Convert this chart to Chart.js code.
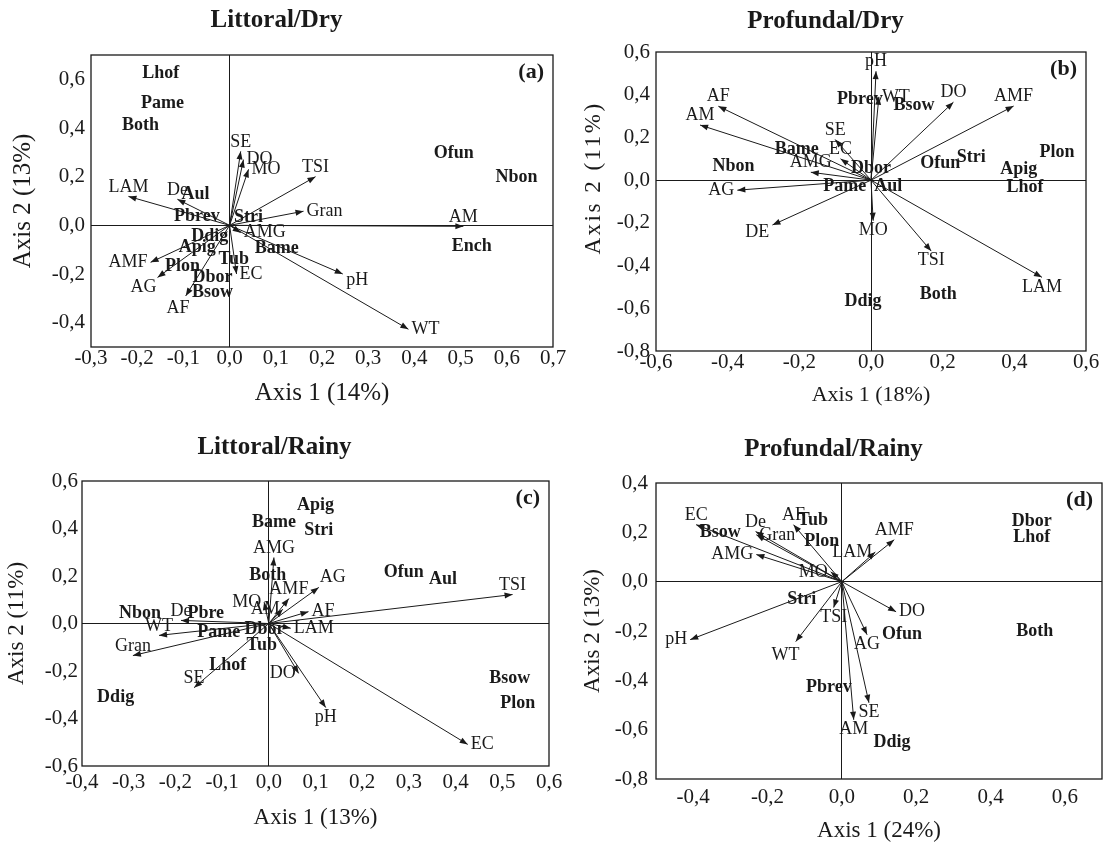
<!DOCTYPE html>
<html>
<head>
<meta charset="utf-8">
<title>CCA biplots</title>
<script src="https://cdn.jsdelivr.net/npm/chart.js@4.4.0/dist/chart.umd.min.js"></script>
<style>
    body { margin: 0; background: #fff; width: 1104px; height: 845px; position: relative; overflow: hidden; }
    canvas { position: absolute; }
</style>
</head>
<body>
<canvas id="chart-a" width="570" height="420" style="left:0;top:0"></canvas>
<canvas id="chart-b" width="539" height="420" style="left:565px;top:0"></canvas>
<canvas id="chart-c" width="570" height="425" style="left:0;top:420px"></canvas>
<canvas id="chart-d" width="539" height="425" style="left:565px;top:420px"></canvas>
<script>
// (a) Littoral/Dry
const envA = ['LAM', 'De', 'SE', 'DO', 'MO', 'TSI', 'Gran', 'AM', 'pH', 'WT', 'EC', 'AMG', 'AMF', 'AG', 'AF']
const envAx = [-0.219, -0.113, 0.024, 0.03, 0.041, 0.186, 0.16, 0.506, 0.245, 0.387, 0.015, 0.024, -0.171, -0.156, -0.095]
const envAy = [0.119, 0.107, 0.304, 0.27, 0.23, 0.2, 0.058, -0.004, -0.2, -0.427, -0.2, -0.03, -0.152, -0.214, -0.29]
const sppA = ['Lhof', 'Pame', 'Both', 'Ofun', 'Nbon', 'Ench', 'Aul', 'Pbrev', 'Stri', 'Ddig', 'Apig', 'Plon', 'Tub', 'Dbor', 'Bsow', 'Bame']
const sppAx = [-0.149, -0.145, -0.193, 0.485, 0.621, 0.524, -0.074, -0.071, 0.041, -0.043, -0.07, -0.102, 0.009, -0.037, -0.037, 0.102]
const sppAy = [0.624, 0.501, 0.411, 0.296, 0.197, -0.086, 0.127, 0.037, 0.033, -0.045, -0.09, -0.168, -0.14, -0.214, -0.275, -0.094]
const xTicksA = [-0.3, -0.2, -0.1, 0, 0.1, 0.2, 0.3, 0.4, 0.5, 0.6, 0.7]
const yTicksA = [-0.4, -0.2, 0, 0.2, 0.4, 0.6]

// (b) Profundal/Dry
const envB = ['pH', 'WT', 'DO', 'AMF', 'LAM', 'TSI', 'MO', 'AF', 'AM', 'AG', 'DE', 'AMG', 'SE', 'EC']
const envBx = [0.014, 0.022, 0.23, 0.398, 0.477, 0.168, 0.006, -0.426, -0.477, -0.373, -0.275, -0.168, -0.1, -0.085]
const envBy = [0.51, 0.39, 0.365, 0.347, -0.455, -0.332, -0.19, 0.346, 0.258, -0.047, -0.21, 0.037, 0.19, 0.1]
const sppB = ['Pbrev', 'Bsow', 'Stri', 'Plon', 'Apig', 'Ofun', 'Lhof', 'Both', 'Ddig', 'Dbor', 'Aul', 'Pame', 'Nbon', 'Bame']
const sppBx = [-0.031, 0.12, 0.28, 0.519, 0.412, 0.193, 0.43, 0.188, -0.022, 0.0, 0.048, -0.073, -0.384, -0.207]
const sppBy = [0.379, 0.351, 0.108, 0.131, 0.052, 0.08, -0.033, -0.534, -0.567, 0.056, -0.028, -0.028, 0.066, 0.145]
const xTicksB = [-0.6, -0.4, -0.2, 0, 0.2, 0.4, 0.6]
const yTicksB = [-0.8, -0.6, -0.4, -0.2, 0, 0.2, 0.4, 0.6]

// (c) Littoral/Rainy
const envC = ['TSI', 'EC', 'pH', 'DO', 'LAM', 'AF', 'AG', 'AMF', 'AMG', 'AM', 'MO', 'De', 'WT', 'Gran', 'SE']
const envCx = [0.522, 0.426, 0.122, 0.064, 0.047, 0.085, 0.107, 0.043, 0.011, 0.03, -0.01, -0.188, -0.235, -0.291, -0.16]
const envCy = [0.122, -0.509, -0.354, -0.21, -0.02, 0.05, 0.152, 0.105, 0.278, 0.06, 0.09, 0.013, -0.05, -0.135, -0.27]
const sppC = ['Apig', 'Bame', 'Stri', 'Both', 'Ofun', 'Aul', 'Nbon', 'Pbre', 'Pame', 'Dbor', 'Tub', 'Lhof', 'Ddig', 'Bsow', 'Plon']
const sppCx = [0.1, 0.011, 0.107, -0.002, 0.289, 0.373, -0.276, -0.135, -0.107, -0.009, -0.015, -0.088, -0.328, 0.516, 0.533]
const sppCy = [0.497, 0.425, 0.392, 0.202, 0.215, 0.185, 0.042, 0.042, -0.038, -0.025, -0.093, -0.177, -0.312, -0.232, -0.337]
const xTicksC = [-0.4, -0.3, -0.2, -0.1, 0, 0.1, 0.2, 0.3, 0.4, 0.5, 0.6]
const yTicksC = [-0.6, -0.4, -0.2, 0, 0.2, 0.4, 0.6]

// (d) Profundal/Rainy
const envD = ['EC', 'De', 'Gran', 'AF', 'AMG', 'AMF', 'LAM', 'MO', 'AM', 'SE', 'AG', 'DO', 'TSI', 'WT', 'pH']
const envDx = [-0.392, -0.232, -0.23, -0.13, -0.23, 0.141, 0.09, -0.03, 0.032, 0.073, 0.068, 0.146, -0.022, -0.124, -0.408]
const envDy = [0.231, 0.203, 0.19, 0.231, 0.11, 0.17, 0.12, 0.04, -0.56, -0.491, -0.215, -0.122, -0.105, -0.243, -0.235]
const sppD = ['Bsow', 'Tub', 'Plon', 'Dbor', 'Lhof', 'Both', 'Ofun', 'Pbrev', 'Ddig', 'Stri']
const sppDx = [-0.327, -0.078, -0.054, 0.511, 0.511, 0.519, 0.162, -0.035, 0.135, -0.108]
const sppDy = [0.199, 0.25, 0.162, 0.243, 0.178, -0.203, -0.215, -0.43, -0.653, -0.073]
const xTicksD = [-0.4, -0.2, 0, 0.2, 0.4, 0.6]
const yTicksD = [-0.8, -0.6, -0.4, -0.2, 0, 0.2, 0.4]

const ink = '#1a1a1a'
const serif = '"Liberation Serif", "Times New Roman", serif'

function comma(value) {
    return Number(value).toFixed(1).replace('.', ',')
}

function points(xs, ys) {
    return xs.map((x, i) => ({ x: x, y: ys[i] }))
}

function drawArrow(ctx, x0, y0, x1, y1) {
    const ang = Math.atan2(y1 - y0, x1 - x0)
    const len = 8, half = 3
    ctx.beginPath()
    ctx.moveTo(x0, y0)
    ctx.lineTo(x1, y1)
    ctx.stroke()
    ctx.beginPath()
    ctx.moveTo(x1, y1)
    ctx.lineTo(x1 - len * Math.cos(ang) + half * Math.sin(ang), y1 - len * Math.sin(ang) - half * Math.cos(ang))
    ctx.lineTo(x1 - len * Math.cos(ang) - half * Math.sin(ang), y1 - len * Math.sin(ang) + half * Math.cos(ang))
    ctx.closePath()
    ctx.fill()
}

// label next to the arrow tip, on the given side or along the arrow
function placeLabel(ctx, name, tx, ty, ox, oy, side) {
    const w = ctx.measureText(name).width
    const h = 13, gap = 3
    let cx, cy
    if (side === 'top') { cx = tx; cy = ty - gap - h / 2 }
    else if (side === 'bottom') { cx = tx; cy = ty + gap + h / 2 }
    else if (side === 'left') { cx = tx - gap - w / 2; cy = ty }
    else if (side === 'right') { cx = tx + gap + w / 2; cy = ty }
    else {
        const dx = tx - ox, dy = ty - oy
        const l = Math.hypot(dx, dy) || 1
        const ux = dx / l, uy = dy / l
        const r = Math.abs(ux) * w / 2 + Math.abs(uy) * h / 2 + gap
        cx = tx + ux * r
        cy = ty + uy * r
    }
    ctx.fillText(name, cx, cy)
}

const biplot = {
    id: 'biplot',
    afterDatasetsDraw(chart) {
        const ctx = chart.ctx
        const ox = chart.scales.x.getPixelForValue(0)
        const oy = chart.scales.y.getPixelForValue(0)
        ctx.save()
        ctx.strokeStyle = ink
        ctx.fillStyle = ink
        ctx.lineWidth = 1
        chart.getDatasetMeta(0).data.forEach(pt => drawArrow(ctx, ox, oy, pt.x, pt.y))
        ctx.restore()
    },
    afterDraw(chart, args, opts) {
        const ctx = chart.ctx
        const ca = chart.chartArea
        const ox = chart.scales.x.getPixelForValue(0)
        const oy = chart.scales.y.getPixelForValue(0)
        ctx.save()
        ctx.strokeStyle = ink
        ctx.lineWidth = 1.3
        ctx.strokeRect(ca.left, ca.top, ca.right - ca.left, ca.bottom - ca.top)

        ctx.fillStyle = ink
        ctx.textAlign = 'center'
        ctx.textBaseline = 'middle'
        ctx.font = '18px ' + serif
        const env = chart.data.datasets[0]
        chart.getDatasetMeta(0).data.forEach((pt, i) => {
            placeLabel(ctx, env.names[i], pt.x, pt.y, ox, oy, opts.sides[env.names[i]])
        })
        ctx.font = 'bold 18px ' + serif
        const spp = chart.data.datasets[1]
        chart.getDatasetMeta(1).data.forEach((pt, i) => {
            ctx.fillText(spp.names[i], pt.x, pt.y)
        })

        ctx.font = 'bold 22px ' + serif
        ctx.textAlign = 'right'
        ctx.fillText(opts.letter, ca.right - 9, ca.top + 17)

        if (opts.spacedTitle) {
            const t = opts.spacedTitle
            ctx.font = t.size + 'px ' + serif
            ctx.letterSpacing = t.spacing + 'px'
            ctx.translate(t.x, t.y)
            ctx.rotate(-Math.PI / 2)
            ctx.textAlign = 'center'
            ctx.fillText(t.text, 0, 0)
        }
        ctx.restore()
    }
}

const zeroGrid = {
    drawTicks: false,
    lineWidth: 1,
    color: c => (c.tick && c.tick.value === 0) ? ink : 'rgba(0,0,0,0)'
}

function makePanel(canvasId, p) {
    return new Chart(document.getElementById(canvasId), {
        type: 'scatter',
        data: {
            datasets: [
                { label: 'env', names: p.env, data: points(p.envX, p.envY), pointRadius: 0 },
                { label: 'spp', names: p.spp, data: points(p.sppX, p.sppY), pointRadius: 0 }
            ]
        },
        options: {
            responsive: false,
            animation: false,
            events: [],
            layout: { padding: { right: p.padRight } },
            plugins: {
                legend: { display: false },
                tooltip: { enabled: false },
                title: {
                    display: true,
                    text: p.title,
                    color: ink,
                    font: { family: serif, size: 25, weight: 'bold' },
                    padding: p.titlePad
                },
                biplot: { sides: p.sides, letter: p.letter, spacedTitle: p.spacedTitle }
            },
            scales: {
                x: {
                    type: 'linear',
                    min: p.xRange[0],
                    max: p.xRange[1],
                    afterBuildTicks: axis => { axis.ticks = p.xTicks.map(v => ({ value: v })) },
                    afterFit: scale => { scale.height = p.xAxisHeight },
                    grid: zeroGrid,
                    border: { display: false },
                    ticks: {
                        color: ink,
                        font: { family: serif, size: 21, lineHeight: 1 },
                        padding: p.xTickPad,
                        autoSkip: false,
                        maxRotation: 0,
                        callback: comma
                    },
                    title: {
                        display: true,
                        text: p.xTitle,
                        color: ink,
                        font: { family: serif, size: p.xTitleSize },
                        padding: { top: 0, bottom: p.xTitlePad }
                    }
                },
                y: {
                    type: 'linear',
                    min: p.yRange[0],
                    max: p.yRange[1],
                    afterBuildTicks: axis => { axis.ticks = p.yTicks.map(v => ({ value: v })) },
                    afterFit: scale => { scale.width = p.yAxisWidth },
                    grid: zeroGrid,
                    border: { display: false },
                    ticks: {
                        color: ink,
                        font: { family: serif, size: 21, lineHeight: 1 },
                        padding: p.yTickPad,
                        autoSkip: false,
                        callback: comma
                    },
                    title: {
                        display: !p.spacedTitle,
                        text: p.yTitle,
                        color: ink,
                        font: { family: serif, size: p.yTitleSize },
                        padding: { top: p.yTitlePad, bottom: 0 }
                    }
                }
            }
        },
        plugins: [biplot]
    })
}

makePanel('chart-a', {
    title: 'Littoral/Dry', letter: '(a)',
    env: envA, envX: envAx, envY: envAy, spp: sppA, sppX: sppAx, sppY: sppAy,
    xRange: [-0.3, 0.7], yRange: [-0.5, 0.7], xTicks: xTicksA, yTicks: yTicksA,
    xTitle: 'Axis 1 (14%)', yTitle: 'Axis 2 (13%)', xTitleSize: 25, yTitleSize: 25,
    xTitlePad: 12, yTitlePad: 8, xTickPad: 1, yTickPad: 6,
    yAxisWidth: 91, xAxisHeight: 73, padRight: 17, titlePad: { top: 6, bottom: 19 },
    sides: { LAM: 'top', De: 'top', SE: 'top', DO: 'right', MO: 'right', TSI: 'top', Gran: 'right', AM: 'top', WT: 'right', EC: 'right', AMG: 'right', AMF: 'left' }
})

makePanel('chart-b', {
    title: 'Profundal/Dry', letter: '(b)',
    env: envB, envX: envBx, envY: envBy, spp: sppB, sppX: sppBx, sppY: sppBy,
    xRange: [-0.6, 0.6], yRange: [-0.8, 0.6], xTicks: xTicksB, yTicks: yTicksB,
    xTitle: 'Axis 1 (18%)', yTitle: 'Axis 2 (11%)', xTitleSize: 22, yTitleSize: 21,
    xTitlePad: 12, yTitlePad: 15, xTickPad: 1, yTickPad: 6,
    yAxisWidth: 91, xAxisHeight: 69, padRight: 18, titlePad: { top: 7, bottom: 15 },
    spacedTitle: { text: 'Axis 2 (11%)', size: 23, spacing: 2.5, x: 29, y: 178 },
    sides: { pH: 'top', WT: 'right', DO: 'top', AMF: 'top', LAM: 'bottom', TSI: 'bottom', MO: 'bottom', AF: 'top', AM: 'top', AG: 'left', AMG: 'top', SE: 'top', EC: 'top' }
})

makePanel('chart-c', {
    title: 'Littoral/Rainy', letter: '(c)',
    env: envC, envX: envCx, envY: envCy, spp: sppC, sppX: sppCx, sppY: sppCy,
    xRange: [-0.4, 0.6], yRange: [-0.6, 0.6], xTicks: xTicksC, yTicks: yTicksC,
    xTitle: 'Axis 1 (13%)', yTitle: 'Axis 2 (11%)', xTitleSize: 23, yTitleSize: 23,
    xTitlePad: 13, yTitlePad: 3, xTickPad: 6, yTickPad: 4,
    yAxisWidth: 82, xAxisHeight: 79, padRight: 21, titlePad: { top: 13, bottom: 18 },
    sides: { TSI: 'top', EC: 'right', pH: 'bottom', DO: 'left', LAM: 'right', AF: 'right', AMF: 'top', AMG: 'top', AM: 'left', MO: 'left', De: 'top', WT: 'top', Gran: 'top', SE: 'top' }
})

makePanel('chart-d', {
    title: 'Profundal/Rainy', letter: '(d)',
    env: envD, envX: envDx, envY: envDy, spp: sppD, sppX: sppDx, sppY: sppDy,
    xRange: [-0.5, 0.7], yRange: [-0.8, 0.4], xTicks: xTicksD, yTicks: yTicksD,
    xTitle: 'Axis 1 (24%)', yTitle: 'Axis 2 (13%)', xTitleSize: 23, yTitleSize: 23,
    xTitlePad: 0, yTitlePad: 14, xTickPad: 8, yTickPad: 8,
    yAxisWidth: 91, xAxisHeight: 66, padRight: 2, titlePad: { top: 15, bottom: 18 },
    sides: { EC: 'top', De: 'top', Gran: 'right', AF: 'top', AMG: 'left', AMF: 'top', LAM: 'left', MO: 'left', AM: 'bottom', SE: 'bottom', AG: 'bottom', DO: 'right', TSI: 'bottom', pH: 'left' }
})
</script>
</body>
</html>
